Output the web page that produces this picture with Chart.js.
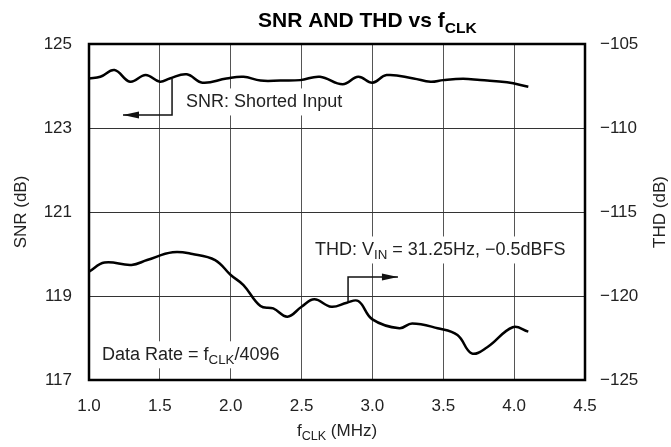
<!DOCTYPE html>
<html>
<head>
<meta charset="utf-8">
<script src="https://cdn.jsdelivr.net/npm/chart.js@4"></script>
<style>
  html, body { margin: 0; padding: 0; background: #fff; }
  #wrap { width: 671px; height: 447px; }
</style>
</head>
<body>
<div id="wrap"><canvas id="snrChart" width="671" height="447"></canvas></div>
<script>
// values
var fclkSnr = [1.0, 1.08, 1.18, 1.29, 1.40, 1.5, 1.57, 1.69, 1.80, 1.97, 2.09, 2.21, 2.35, 2.49, 2.63, 2.79, 2.90, 3.0, 3.10, 3.29, 3.41, 3.5, 3.64, 3.76, 3.95, 4.1];
var snrValues = [124.18, 124.22, 124.38, 124.10, 124.26, 124.10, 124.18, 124.28, 124.08, 124.18, 124.22, 124.13, 124.13, 124.14, 124.22, 124.04, 124.22, 124.08, 124.26, 124.18, 124.10, 124.14, 124.17, 124.14, 124.09, 123.98];
var fclkThd = [1.0, 1.11, 1.30, 1.41, 1.59, 1.73, 1.89, 2.0, 2.09, 2.21, 2.30, 2.40, 2.50, 2.59, 2.71, 2.82, 2.90, 3.0, 3.19, 3.28, 3.46, 3.60, 3.70, 3.81, 3.99, 4.1];
var thdValues = [-118.55, -118.01, -118.15, -117.86, -117.40, -117.50, -117.86, -118.75, -119.35, -120.60, -120.74, -121.23, -120.64, -120.20, -120.64, -120.40, -120.30, -121.39, -121.92, -121.63, -121.92, -122.32, -123.41, -123.05, -121.86, -122.12];

var xTicks = [1.0, 1.5, 2.0, 2.5, 3.0, 3.5, 4.0, 4.5];
var snrTicks = [117, 119, 121, 123, 125];
var thdTicks = [-125, -120, -115, -110, -105];

var FONT = "'Liberation Sans', Arial, sans-serif";
var INK = "#222";

function toPoints(xs, ys) {
  return xs.map(function (x, i) { return { x: x, y: ys[i] }; });
}

// draws text made of [string, isSubscript] pieces
function drawParts(ctx, parts, x, y, size, bold, align) {
  var w = 0;
  parts.forEach(function (p) {
    ctx.font = (bold ? "bold " : "") + (p[1] ? size * 0.74 : size) + "px " + FONT;
    w += ctx.measureText(p[0]).width;
  });
  var cx = align === "center" ? x - w / 2 : x;
  parts.forEach(function (p) {
    ctx.font = (bold ? "bold " : "") + (p[1] ? size * 0.74 : size) + "px " + FONT;
    ctx.fillText(p[0], cx, p[1] ? y + size * 0.3 : y);
    cx += ctx.measureText(p[0]).width;
  });
  return w;
}

function label(ctx, parts, x, y, size) {
  ctx.save();
  ctx.textAlign = "left";
  ctx.textBaseline = "middle";
  var w = 0;
  parts.forEach(function (p) {
    ctx.font = (p[1] ? size * 0.74 : size) + "px " + FONT;
    w += ctx.measureText(p[0]).width;
  });
  ctx.fillStyle = "#fff";
  ctx.fillRect(x - 5, y - size * 0.75, w + 10, size * 1.5);
  ctx.fillStyle = INK;
  drawParts(ctx, parts, x, y, size, false, "left");
  ctx.restore();
}

function arrow(ctx, pts, color) {
  ctx.save();
  ctx.strokeStyle = color;
  ctx.fillStyle = color;
  ctx.lineWidth = 1.5;
  ctx.beginPath();
  ctx.moveTo(pts[0][0], pts[0][1]);
  for (var i = 1; i < pts.length; i++) ctx.lineTo(pts[i][0], pts[i][1]);
  ctx.stroke();
  var a = pts[pts.length - 2], b = pts[pts.length - 1];
  var dir = b[0] > a[0] ? 1 : -1;
  ctx.beginPath();
  ctx.moveTo(b[0], b[1]);
  ctx.lineTo(b[0] - dir * 16, b[1] - 3.5);
  ctx.lineTo(b[0] - dir * 16, b[1] + 3.5);
  ctx.closePath();
  ctx.fill();
  ctx.restore();
}

var decorations = {
  id: "decorations",
  beforeDatasetsDraw: function (chart) {
    var ctx = chart.ctx, x = chart.scales.x, y = chart.scales.y, y2 = chart.scales.y2;
    label(ctx, [["SNR: Shorted Input", false]], x.getPixelForValue(1.685), y.getPixelForValue(123.62), 18);
    label(ctx, [["THD: V", false], ["IN", true], [" = 31.25Hz, \u22120.5dBFS", false]], x.getPixelForValue(2.595), y2.getPixelForValue(-117.26), 18);
    label(ctx, [["Data Rate = f", false], ["CLK", true], ["/4096", false]], x.getPixelForValue(1.092), y.getPixelForValue(117.6), 18);

    arrow(ctx, [
      [x.getPixelForValue(1.586), y.getPixelForValue(124.18)],
      [x.getPixelForValue(1.586), y.getPixelForValue(123.31)],
      [x.getPixelForValue(1.24), y.getPixelForValue(123.31)]
    ], "#111");
    arrow(ctx, [
      [x.getPixelForValue(2.828), y2.getPixelForValue(-120.35)],
      [x.getPixelForValue(2.828), y2.getPixelForValue(-118.87)],
      [x.getPixelForValue(3.18), y2.getPixelForValue(-118.87)]
    ], "#111");
  },
  afterDraw: function (chart) {
    var ctx = chart.ctx, a = chart.chartArea;
    ctx.save();
    ctx.strokeStyle = "#000";
    ctx.lineWidth = 2.5;
    ctx.strokeRect(a.left, a.top, a.right - a.left, a.bottom - a.top);

    ctx.fillStyle = "#000";
    ctx.textBaseline = "alphabetic";
    drawParts(ctx, [["SNR AND THD vs f", false], ["CLK", true]], 258, 27, 21, true, "left");

    ctx.fillStyle = INK;
    ctx.textBaseline = "middle";
    drawParts(ctx, [["f", false], ["CLK", true], [" (MHz)", false]], (a.left + a.right) / 2, 431, 17, false, "center");

    ctx.translate(21, (a.top + a.bottom) / 2);
    ctx.rotate(-Math.PI / 2);
    drawParts(ctx, [["SNR (dB)", false]], 0, 0, 17, false, "center");
    ctx.restore();

    ctx.save();
    ctx.fillStyle = INK;
    ctx.textBaseline = "middle";
    ctx.translate(660, (a.top + a.bottom) / 2);
    ctx.rotate(-Math.PI / 2);
    drawParts(ctx, [["THD (dB)", false]], 0, 0, 17, false, "center");
    ctx.restore();
  }
};

var ctx = document.getElementById("snrChart");
var chart = new Chart(ctx, {
  type: "line",
  data: {
    datasets: [
      {
        label: "SNR",
        data: toPoints(fclkSnr, snrValues),
        yAxisID: "y",
        borderColor: "#000",
        borderWidth: 2.5,
        pointRadius: 0,
        tension: 0.4,
        fill: false
      },
      {
        label: "THD",
        data: toPoints(fclkThd, thdValues),
        yAxisID: "y2",
        borderColor: "#000",
        borderWidth: 2.5,
        pointRadius: 0,
        tension: 0.4,
        fill: false
      }
    ]
  },
  options: {
    responsive: false,
    animation: false,
    layout: { padding: { top: 44, left: 0, right: 0, bottom: 0 } },
    plugins: {
      legend: { display: false },
      tooltip: { enabled: false }
    },
    scales: {
      x: {
        type: "linear",
        min: 1.0,
        max: 4.5,
        afterBuildTicks: function (s) { s.ticks = xTicks.map(function (v) { return { value: v }; }); },
        afterFit: function (s) { s.height = 67; },
        grid: { color: "#555", lineWidth: 1, drawTicks: false },
        border: { display: false },
        ticks: {
          padding: 16,
          color: INK,
          font: { size: 17, family: FONT },
          callback: function (v) { return v.toFixed(1); }
        }
      },
      y: {
        position: "left",
        min: 117,
        max: 125,
        afterBuildTicks: function (s) { s.ticks = snrTicks.map(function (v) { return { value: v }; }); },
        afterFit: function (s) { s.width = 89; },
        grid: { color: "#333", lineWidth: 1, drawTicks: false },
        border: { display: false },
        ticks: {
          padding: 17,
          color: INK,
          font: { size: 17, family: FONT }
        }
      },
      y2: {
        position: "right",
        min: -125,
        max: -105,
        afterBuildTicks: function (s) { s.ticks = thdTicks.map(function (v) { return { value: v }; }); },
        afterFit: function (s) { s.width = 86; },
        grid: { display: false, drawTicks: false },
        border: { display: false },
        ticks: {
          padding: 15,
          color: INK,
          font: { size: 17, family: FONT },
          callback: function (v) { return "\u2212" + Math.abs(v); }
        }
      }
    }
  },
  plugins: [decorations]
});
</script>
</body>
</html>
